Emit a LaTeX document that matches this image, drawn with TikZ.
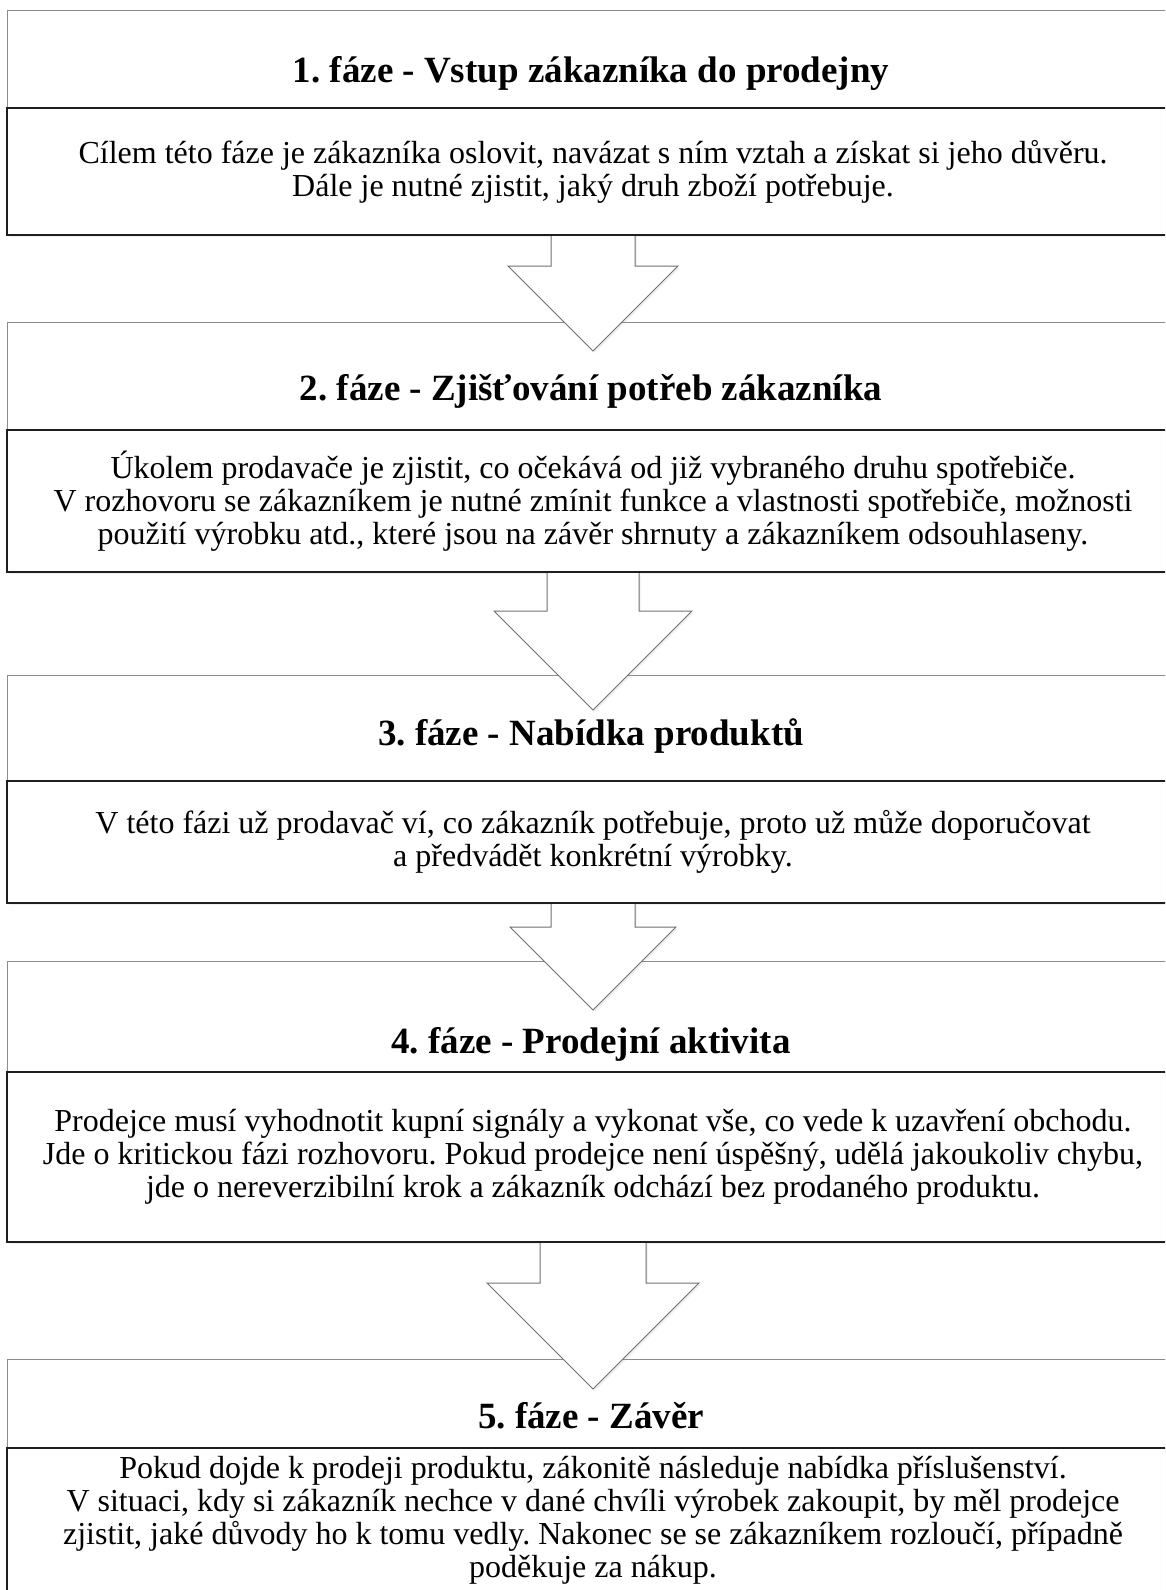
\documentclass[tikz,border=0pt]{standalone}
\usepackage{fontspec}
\setmainfont{Liberation Serif}
\usetikzlibrary{positioning,calc,shadows}
\definecolor{headgray}{HTML}{8C8C8C}
\definecolor{boxblack}{HTML}{1E1E1E}
\definecolor{arrowgray}{HTML}{707070}
\tikzset{
    softshadow/.style={drop shadow={opacity=0.12, shadow xshift=1.5pt, shadow yshift=-2pt}},
    head/.style={rectangle, draw=headgray, fill=white, line width=1pt, minimum width=1172pt, inner sep=0pt, outer sep=0pt},
    body/.style={rectangle, draw=boxblack, fill=white, line width=1.5pt, minimum width=1172pt, inner sep=0pt, outer sep=0pt,
        softshadow, align=center, font=\fontsize{32}{33}\selectfont},
    title/.style={anchor=base, font=\fontsize{37}{40}\selectfont\bfseries},
    phase/.style={fill=white, draw=arrowgray, line width=1pt, line join=miter, softshadow},
}
% #1 box above, #2 half shaft, #3 shaft length, #4 half head
\newcommand{\phasearrow}[4]{
    \path[phase] ($(#1.south)+(-#2,-1)$) -- ($(#1.south)+(-#2,-#3)$) -- ($(#1.south)+(-#4,-#3)$)
        -- ($(#1.south)+(0,-#3-#4)$) -- ($(#1.south)+(#4,-#3)$) -- ($(#1.south)+(#2,-#3)$)
        -- ($(#1.south)+(#2,-1)$);
}

\begin{document}
\frenchspacing
\begin{tikzpicture}[x=1pt, y=1pt]
    \useasboundingbox (0,0) rectangle (1165,-1590);
    \clip (0,0) rectangle (1165,-1590);

    \node [head, minimum height=98pt, anchor=north] (h1) at (593,-10) {};
    \node [body, minimum height=127pt, below=0pt of h1] (b1)
    {
        Cílem této fáze je zákazníka oslovit, navázat s ním vztah a získat si jeho důvěru.
        \\
        Dále je nutné zjistit, jaký druh zboží potřebuje.
    };

    \node [head, minimum height=108pt, below=87pt of b1] (h2) {};
    \node [body, minimum height=142pt, below=0pt of h2] (b2)
    {
        Úkolem prodavače je zjistit, co očekává od již vybraného druhu spotřebiče.
        \\
        V rozhovoru se zákazníkem je nutné zmínit funkce a vlastnosti spotřebiče, možnosti
        \\
        použití výrobku atd., které jsou na závěr shrnuty a zákazníkem odsouhlaseny.
    };

    \node [head, minimum height=106pt, below=103pt of b2] (h3) {};
    \node [body, minimum height=122pt, below=0pt of h3] (b3)
    {
        V této fázi už prodavač ví, co zákazník potřebuje, proto už může doporučovat
        \\
        a předvádět konkrétní výrobky.
    };

    \node [head, minimum height=111pt, below=58pt of b3] (h4) {};
    \node [body, minimum height=170pt, below=0pt of h4] (b4)
    {
        Prodejce musí vyhodnotit kupní signály a vykonat vše, co vede k uzavření obchodu.
        \\
        Jde o kritickou fázi rozhovoru. Pokud prodejce není úspěšný, udělá jakoukoliv chybu,
        \\
        jde o nereverzibilní krok a zákazník odchází bez prodaného produktu.
    };

    \node [head, minimum height=89pt, below=117pt of b4] (h5) {};
    \node [body, minimum height=145pt, below=0pt of h5] (b5)
    {
        Pokud dojde k prodeji produktu, zákonitě následuje nabídka příslušenství.
        \\
        V situaci, kdy si zákazník nechce v dané chvíli výrobek zakoupit, by měl prodejce
        \\
        zjistit, jaké důvody ho k tomu vedly. Nakonec se se zákazníkem rozloučí, případně
        \\
        poděkuje za nákup.
    };

    \node [title] (t1) at ([xshift=-2pt, yshift=26pt]h1.south) {1. fáze - Vstup zákazníka do prodejny};
    \node [title] (t2) at ([xshift=-2pt, yshift=30pt]h2.south) {2. fáze - Zjišťování potřeb zákazníka};
    \node [title] (t3) at ([xshift=-2pt, yshift=36pt]h3.south) {3. fáze - Nabídka produktů};
    \node [title] (t4) at ([xshift=-2pt, yshift=19pt]h4.south) {4. fáze - Prodejní aktivita};
    \node [title] (t5) at ([xshift=-2pt, yshift=20pt]h5.south) {5. fáze - Závěr};

    \phasearrow{b1}{42}{31}{85}
    \phasearrow{b2}{46}{39}{99}
    \phasearrow{b3}{42}{24}{83}
    \phasearrow{b4}{53}{41}{106}

\end{tikzpicture}
\end{document}
